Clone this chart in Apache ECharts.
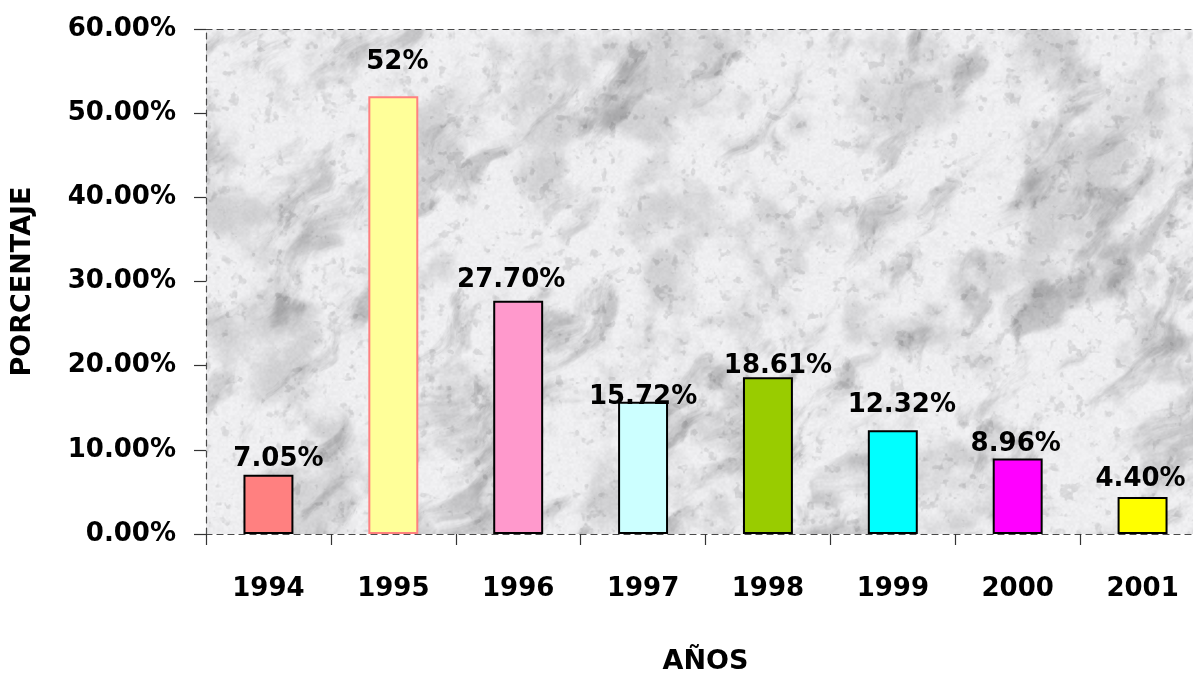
<!DOCTYPE html>
<html>
<head>
<meta charset="utf-8">
<title>Porcentaje por año</title>
<script src="https://cdn.jsdelivr.net/npm/echarts@6/dist/echarts.min.js"></script>
<style>
  html, body { margin: 0; padding: 0; background: #fff; }
  #chart { width: 1193px; height: 673px; }
</style>
</head>
<body>
<div id="chart"></div>
<script>
// Years and percentage per year
const years = ['1994', '1995', '1996', '1997', '1998', '1999', '2000', '2001'];
const percentages = [7.05, 52, 27.70, 15.72, 18.61, 12.32, 8.96, 4.40];
const yTicks = [0, 10, 20, 30, 40, 50, 60];

// Bar fills and outlines
const barFills = ['#FF8080', '#FFFF99', '#FF99CC', '#CCFFFF', '#99CC00', '#00FFFF', '#FF00FF', '#FFFF00'];
const barBorders = ['#000000', '#FF8080', '#000000', '#000000', '#000000', '#000000', '#000000', '#000000'];

// Hand-placed label nudges [dx, dy] in pixels
const labelNudge = [[10, -2], [4, -21], [-7, -8], [0, 9], [10, 2], [9, -12], [-2, -1], [-2, -5]];

const FONT = '"DejaVu Sans", sans-serif';

// Procedural marble texture for the plot background
function hash(ix, iy) {
  let h = (Math.imul(ix, 374761393) + Math.imul(iy, 668265263)) | 0;
  h = Math.imul(h ^ (h >>> 13), 1274126177);
  h = h ^ (h >>> 16);
  return (h >>> 0) / 4294967295;
}
function smooth(t) { return t * t * (3 - 2 * t); }
function vnoise(x, y) {
  const ix = Math.floor(x), iy = Math.floor(y);
  const fx = smooth(x - ix), fy = smooth(y - iy);
  const a = hash(ix, iy), b = hash(ix + 1, iy), c = hash(ix, iy + 1), d = hash(ix + 1, iy + 1);
  const top = a + (b - a) * fx, bot = c + (d - c) * fx;
  return top + (bot - top) * fy;
}
function fbm(x, y, oct) {
  let s = 0, amp = 0.5, f = 1, norm = 0;
  for (let i = 0; i < oct; i++) {
    s += amp * vnoise(x * f + i * 13.1, y * f + i * 7.7);
    norm += amp; amp *= 0.55; f *= 2.03;
  }
  return s / norm;
}
function sstep(a, b, v) { const t = Math.max(0, Math.min(1, (v - a) / (b - a))); return t * t * (3 - 2 * t); }
function marbleCanvas(w, h) {
  const cv = document.createElement('canvas');
  cv.width = w; cv.height = h;
  const ctx = cv.getContext('2d');
  const img = ctx.createImageData(w, h);
  const px = img.data;
  const k = Math.SQRT1_2;
  for (let y = 0; y < h; y++) {
    for (let x = 0; x < w; x++) {
      // soft streaks from lower left to upper right over a cloudy base
      const along = (x - y) * k, across = (x + y) * k;
      const wx = fbm(x / 80, y / 80, 3) * 50;
      const streak = fbm((along + wx) / 60, (across + wx) / 26, 5);
      const cloud = fbm(x / 55 + 50, y / 55 + 20, 5);
      const fleck = fbm(x / 9 + 90, y / 9 + 30, 3);
      const grain = vnoise(x / 2.2, y / 2.2);
      let g = 243
        - 42 * sstep(0.5, 0.8, streak)
        - 30 * sstep(0.46, 0.76, cloud)
        - 22 * sstep(0.62, 0.8, fleck)
        - 9 * grain;
      g = Math.max(160, Math.min(250, g));
      const i = (y * w + x) * 4;
      px[i] = g; px[i + 1] = g; px[i + 2] = g + 2; px[i + 3] = 255;
    }
  }
  ctx.putImageData(img, 0, 0);
  return cv;
}

const chart = echarts.init(document.getElementById('chart'), null, { renderer: 'canvas' });

const labelText = v => (Math.round(v) === v ? v + '%' : v.toFixed(2) + '%');
const borderDash = { color: '#4a4a4a', width: 1.2, type: [6, 5] };

const seriesData = percentages.map((v, i) => ({
  value: v,
  itemStyle: {
    color: barFills[i],
    borderColor: barBorders[i],
    borderWidth: 2
  },
  label: { offset: labelNudge[i] }
}));

chart.setOption({
  animation: false,
  backgroundColor: '#ffffff',
  grid: {
    left: 206, top: 29, width: 999, height: 505,
    outerBoundsMode: 'none',
    containLabel: false,
    show: true,
    borderWidth: 0,
    borderColor: 'transparent',
    backgroundColor: { image: marbleCanvas(1193, 673), repeat: 'no-repeat' }
  },
  xAxis: [
    {
      type: 'category',
      data: years,
      boundaryGap: true,
      name: 'AÑOS',
      nameLocation: 'middle',
      nameGap: 114,
      nameTextStyle: { fontFamily: FONT, fontSize: 27, fontWeight: 'bold', color: '#000' },
      axisLine: { show: true, lineStyle: borderDash },
      axisTick: { show: true, length: 11, interval: 0, lineStyle: { color: '#333', width: 1.2 } },
      axisLabel: { interval: 0, margin: 42, fontFamily: FONT, fontSize: 26, fontWeight: 'bold', color: '#000' },
      splitLine: { show: false }
    },
    {
      type: 'category',
      data: years,
      position: 'top',
      axisLine: { show: true, lineStyle: borderDash },
      axisTick: { show: false },
      axisLabel: { show: false },
      splitLine: { show: false }
    }
  ],
  yAxis: {
    type: 'value',
    min: yTicks[0],
    max: yTicks[yTicks.length - 1],
    interval: 10,
    name: 'PORCENTAJE',
    nameLocation: 'middle',
    nameRotate: 90,
    nameGap: 170,
    nameTextStyle: { fontFamily: FONT, fontSize: 27, fontWeight: 'bold', color: '#000' },
    axisLine: { show: true, lineStyle: borderDash },
    axisTick: { show: true, inside: false, length: 12, lineStyle: { color: '#333', width: 1.2 } },
    axisLabel: {
      margin: 30,
      fontFamily: FONT, fontSize: 26, fontWeight: 'bold', color: '#000',
      formatter: v => v.toFixed(2) + '%'
    },
    splitLine: { show: false }
  },
  series: [{
    type: 'bar',
    xAxisIndex: 0,
    barWidth: '40%',
    data: seriesData,
    label: {
      show: true,
      position: 'top',
      distance: 0,
      fontFamily: FONT,
      fontSize: 26,
      lineHeight: 26,
      fontWeight: 'bold',
      color: '#000',
      formatter: p => labelText(p.value)
    }
  }]
});
</script>
</body>
</html>
